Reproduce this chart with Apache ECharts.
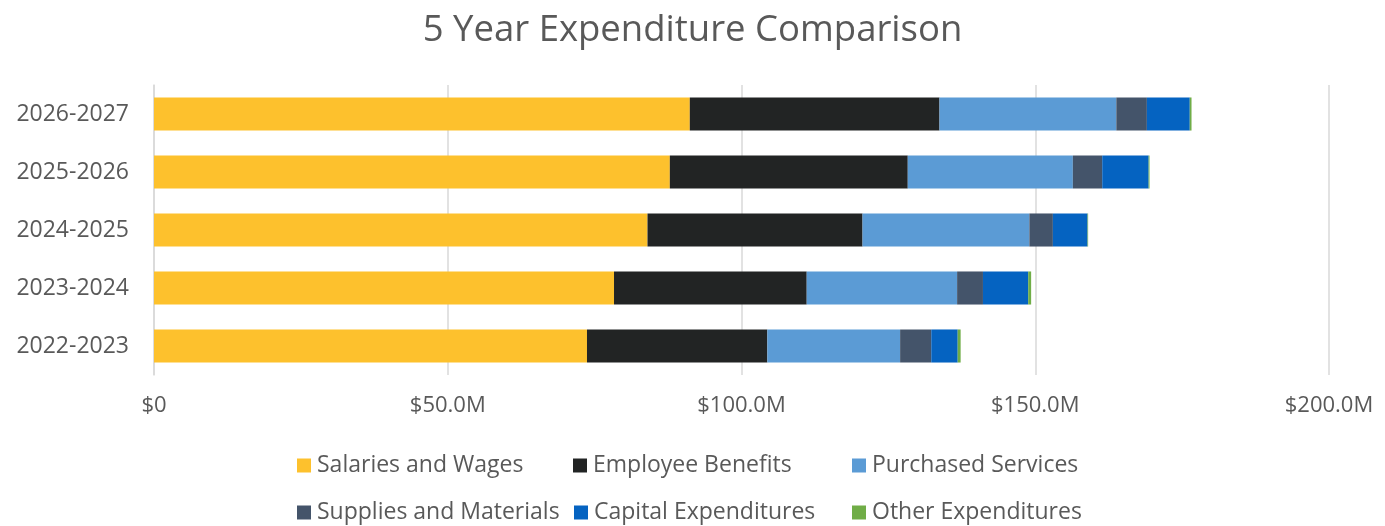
<!DOCTYPE html>
<html><head><meta charset="utf-8">
<script src="https://cdn.jsdelivr.net/npm/echarts@6/dist/echarts.min.js"></script>
<style>html,body{margin:0;padding:0;background:#fff}#c{width:1385px;height:526px}</style>
</head><body><div id="c"></div>
<script>
const categories = ['2022-2023','2023-2024','2024-2025','2025-2026','2026-2027'];
const salaries = [73.7, 78.3, 84.0, 87.8, 91.2];
const benefits = [30.7, 32.8, 36.6, 40.5, 42.5];
const purchased = [22.6, 25.6, 28.4, 28.1, 30.1];
const supplies = [5.3, 4.4, 4.0, 5.0, 5.2];
const capital = [4.5, 7.7, 5.9, 7.9, 7.3];
const other = [0.5, 0.5, 0.1, 0.15, 0.3];
const seriesNames = ['Salaries and Wages','Employee Benefits','Purchased Services','Supplies and Materials','Capital Expenditures','Other Expenditures'];
const seriesData = [salaries, benefits, purchased, supplies, capital, other];
const colors = ['#FDC12D','#222424','#5B9BD5','#44546A','#0563C1','#70AD47'];
const FONT = '"Open Sans", sans-serif';

const legendLefts = [297, 573, 852, 297, 574, 852];
const legendTops = [454, 454, 454, 501, 501, 501];

const chart = echarts.init(document.getElementById('c'));
chart.setOption({
  color: colors,
  animation: false,
  title: {text: '5 Year Expenditure Comparison', left: 'center', top: 7,
    textStyle: {fontFamily: FONT, fontSize: 36.5, fontWeight: 'normal', color: '#595959'}},
  legend: seriesNames.map((n, i) => ({
    left: legendLefts[i], top: legendTops[i], padding: 0,
    itemWidth: 14, itemHeight: 14, itemGap: 0, icon: 'rect', selectedMode: false,
    textStyle: {fontFamily: FONT, fontSize: 23, color: '#595959', padding: [0,0,0,1]},
    data: [n]
  })),
  grid: {left: 154, right: 56, top: 85, bottom: 151, containLabel: false},
  xAxis: {type: 'value', min: 0, max: 200, interval: 50,
    axisLine: {show: false}, axisTick: {show: false},
    splitLine: {lineStyle: {color: '#D9D9D9', width: 1.5}},
    axisLabel: {fontFamily: FONT, fontSize: 22, color: '#595959', margin: 20,
      formatter: v => v === 0 ? '$0' : '$' + v.toFixed(1) + 'M'}},
  yAxis: {type: 'category', data: categories,
    axisLine: {show: true, lineStyle: {color: '#D9D9D9', width: 1.5}},
    axisTick: {show: false},
    axisLabel: {fontFamily: FONT, fontSize: 23, color: '#595959', margin: 25}},
  series: seriesNames.map((n, i) => ({
    name: n, type: 'bar', stack: 'total', data: seriesData[i],
    barWidth: '57%', itemStyle: {color: colors[i]}
  }))
});
</script></body></html>
